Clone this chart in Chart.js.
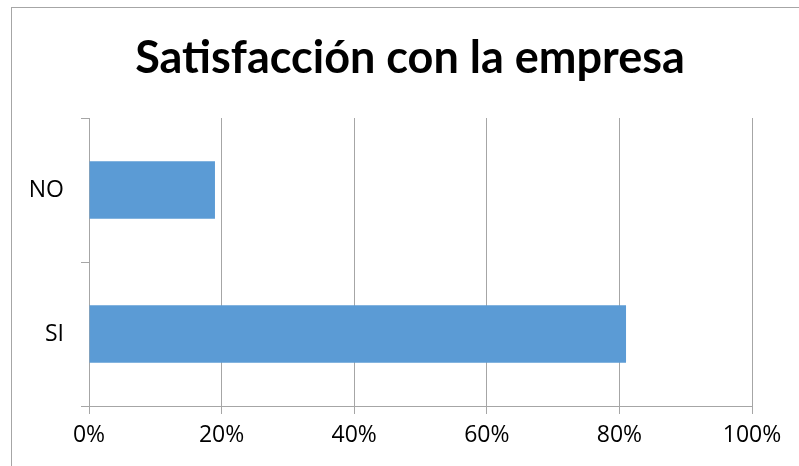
<!DOCTYPE html>
<html>
<head>
<meta charset="utf-8">
<script src="https://cdn.jsdelivr.net/npm/chart.js@4"></script>
<style>
  body { margin: 0; background: #fff; }
  #frame { position: absolute; left: 11px; top: 7px; width: 900px; height: 500px;
           border-left: 1px solid #a6a6a6; border-top: 1px solid #a6a6a6; }
  #wrap { position: absolute; left: 0; top: 0; width: 799px; height: 466px; }
</style>
</head>
<body>
<div id="frame"></div>
<div id="wrap"><canvas id="satisfaccionChart"></canvas></div>
<script>
const categorias = ["NO", "SI"];
const porcentajes = [19, 81];
const titulo = "Satisfacción con la empresa";

const grisEje = "#a6a6a6";

// el título del original está centrado en la página, no sobre el área del gráfico
const centrarTitulo = {
    id: 'centrarTitulo',
    afterLayout(chart) {
        const t = chart.titleBlock;
        if (t) {
            t.left += 34;
            t.right += 34;
        }
    }
};

const data = {
    labels: categorias,
    datasets: [{
        data: porcentajes,
        backgroundColor: "#5b9bd5",
        barPercentage: 0.4,
        categoryPercentage: 1
    }]
};

const config = {
    type: 'bar',
    data: data,
    plugins: [centrarTitulo],
    options: {
        indexAxis: 'y',
        responsive: true,
        maintainAspectRatio: false,
        animation: false,
        layout: { padding: { left: 0, right: 47, top: 0, bottom: 0 } },
        plugins: {
            legend: { display: false },
            tooltip: { enabled: false },
            title: {
                display: true,
                text: titulo,
                color: "#000",
                font: { family: "Lato", size: 45, weight: "bold" },
                padding: { top: 31, bottom: 33 }
            }
        },
        scales: {
            x: {
                min: 0,
                max: 100,
                ticks: {
                    stepSize: 20,
                    color: "#000",
                    padding: 8,
                    font: { family: "Open Sans", size: 23 },
                    callback: v => v + "%"
                },
                grid: { color: grisEje, tickLength: 8, lineWidth: 1 },
                border: { color: grisEje },
                afterFit: scale => { scale.height = 60; }
            },
            y: {
                offset: true,
                ticks: {
                    color: "#000",
                    padding: 17,
                    font: { family: "Open Sans", size: 23 }
                },
                grid: { offset: true, drawOnChartArea: false, color: grisEje, tickLength: 8 },
                border: { color: grisEje },
                afterFit: scale => { scale.width = 89; }
            }
        }
    }
};

new Chart(document.getElementById("satisfaccionChart"), config);
</script>
</body>
</html>
